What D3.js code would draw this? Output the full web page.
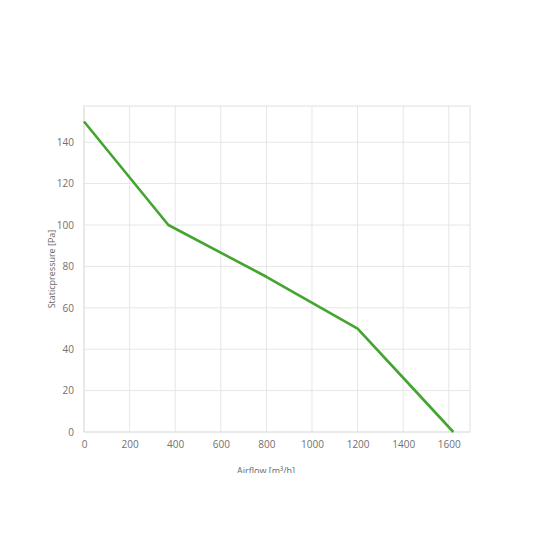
<!DOCTYPE html>
<html><head><meta charset="utf-8">
<script src="https://cdn.jsdelivr.net/npm/d3@7"></script>
<style>body{margin:0;background:#fff;}svg{display:block;}</style>
</head><body>
<script>
const airflow = [0, 370, 800, 1200, 1410, 1620];
const pressure = [150, 100, 75, 50, 25, 0];
const xTicks = [0, 200, 400, 600, 800, 1000, 1200, 1400, 1600];
const yTicks = [0, 20, 40, 60, 80, 100, 120, 140];
const xLabel = "Airflow [m³/h]";
const yLabel = "Staticpressure [Pa]";

const W = 533, H = 533;
const m = {left: 84, right: 63, top: 106, bottom: 101};
const svg = d3.select("body").append("svg").attr("width", W).attr("height", H);
const x = d3.scaleLinear().domain([0, 1693]).range([m.left, W - m.right]);
const y = d3.scaleLinear().domain([0, 157.5]).range([H - m.bottom, m.top]);

const font = "'Open Sans', sans-serif";
const g = svg.append("g");
g.selectAll(".vg").data(xTicks).join("line")
  .attr("x1", d => x(d)).attr("x2", d => x(d)).attr("y1", y(0)).attr("y2", m.top)
  .attr("stroke", "#e6e6e6").attr("stroke-width", 1);
g.selectAll(".hg").data(yTicks).join("line")
  .attr("x1", m.left).attr("x2", W - m.right).attr("y1", d => y(d)).attr("y2", d => y(d))
  .attr("stroke", "#e6e6e6").attr("stroke-width", 1);
g.append("rect").attr("x", m.left).attr("y", m.top)
  .attr("width", W - m.right - m.left).attr("height", H - m.bottom - m.top)
  .attr("fill", "none").attr("stroke", "#e0e0e0");

const xa = svg.append("g").attr("transform", `translate(0,${y(0)})`)
  .call(d3.axisBottom(x).tickValues(xTicks).tickFormat(d3.format("d")).tickSize(0).tickPadding(9));
const ya = svg.append("g").attr("transform", `translate(${m.left},0)`)
  .call(d3.axisLeft(y).tickValues(yTicks).tickFormat(d3.format("d")).tickSize(0).tickPadding(10));
[xa, ya].forEach(a => {
  a.select(".domain").remove();
  a.selectAll("text").attr("fill", "#707070").style("font-family", font).style("font-size", "10px");
});

svg.append("path").datum(airflow.map((a, i) => [a, pressure[i]]))
  .attr("d", d3.line().x(d => x(d[0])).y(d => y(d[1])))
  .attr("fill", "none").attr("stroke", "#43a52f").attr("stroke-width", 2.6)
  .attr("stroke-linejoin", "round");

svg.append("defs").append("clipPath").attr("id", "clip")
  .append("rect").attr("x", 0).attr("y", 0).attr("width", W).attr("height", 473);
svg.append("text").attr("x", 266).attr("y", 474).attr("text-anchor", "middle")
  .attr("clip-path", "url(#clip)")
  .attr("fill", "#666").style("font-family", font).style("font-size", "9px").text(xLabel);
svg.append("text").attr("transform", `translate(55,${(m.top + y(0)) / 2}) rotate(-90)`)
  .attr("text-anchor", "middle")
  .attr("fill", "#666").style("font-family", font).style("font-size", "9px").text(yLabel);
</script>
</body></html>
